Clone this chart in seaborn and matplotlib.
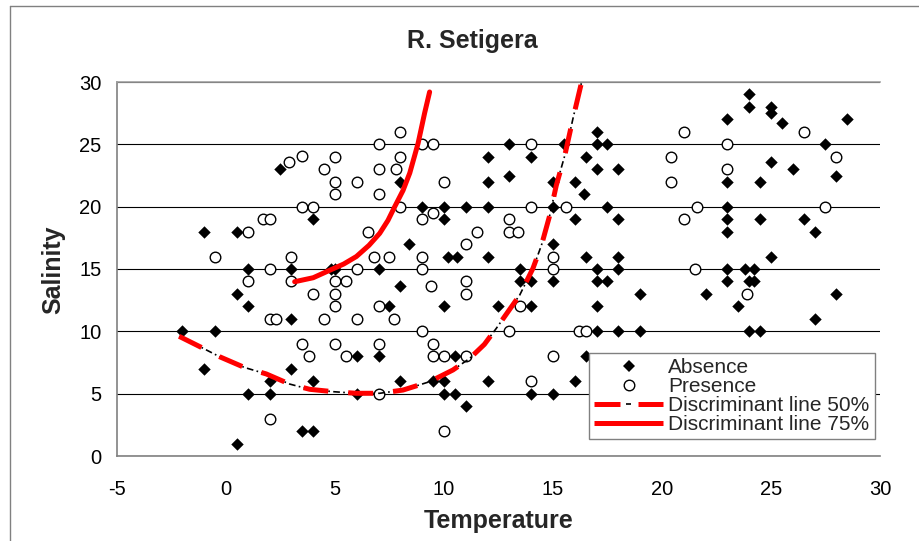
import matplotlib
matplotlib.use("Agg")
import matplotlib.pyplot as plt
import seaborn as sns
from matplotlib.lines import Line2D
from matplotlib.legend_handler import HandlerBase

# ---------------- data ----------------
absence_temp = [-2, -1, -1, -0.5, 0.5, 0.5, 0.5, 1, 1, 1, 2, 2, 2.5, 3, 3, 3, 3.5, 4, 4, 4,
                4.8, 5, 6, 6, 7, 7, 7.5, 8, 8, 8, 8.4, 9, 9.5, 10, 10, 10, 10, 10, 10.2, 10.6,
                10.5, 10.5, 11, 11, 12, 12, 12, 12, 12, 12.5, 13, 13, 13.5, 13.5, 14, 14, 14, 14,
                15, 15, 15, 15, 15, 15.5, 16, 16, 16, 16.4, 16.5, 16.5, 16.5, 17, 17, 17, 17, 17,
                17, 17, 17.5, 17.5, 17.5, 18, 18, 18, 18, 18, 19, 19, 22, 23, 23, 23, 23, 23, 23,
                23, 23.5, 24, 24, 23.8, 24.2, 24, 24.2, 24, 24.5, 24.5, 24.5, 25, 25, 25, 25, 25.5,
                26, 26.5, 27, 27, 27.5, 28, 28, 28.5]
absence_sal = [10, 18, 7, 10, 18, 13, 1, 15, 12, 5, 6, 5, 23, 15, 11, 7, 2, 2, 19, 6,
               15, 15, 8, 5, 15, 8, 12, 22, 13.6, 6, 17, 20, 6, 20, 19, 12, 6, 5, 16, 16,
               8, 5, 20, 4, 24, 22, 20, 16, 6, 12, 25, 22.5, 15, 14, 24, 14, 12, 5,
               22, 20, 17, 14, 5, 25, 22, 19, 6, 21, 24, 16, 8, 26, 25, 23, 15, 14,
               12, 10, 25, 20, 14, 23, 19, 16, 15, 10, 13, 10, 13, 27, 22, 20, 19, 18, 15,
               14, 12, 29, 28, 15, 15, 14, 14, 10, 22, 19, 10, 28, 27.5, 23.6, 16, 26.7,
               23, 19, 18, 11, 25, 22.5, 13, 27]

presence_temp = [-0.5, 1, 1, 1.7, 2, 2, 2, 2.3, 2, 3, 3, 2.9, 3.5, 3.5, 4, 3.5, 3.8, 4, 4.5, 4.5,
                 5, 5, 5, 5, 5, 5, 5, 5.5, 5.5, 6, 6, 6, 6.5, 6.8, 7, 7, 7, 7, 7, 7,
                 7.5, 7.7, 7.8, 8, 8, 8, 9, 9.5, 9, 9.5, 9, 9, 9, 9.4, 9.5, 9.5, 10, 10,
                 10, 11, 11, 11, 11, 11.5, 13, 13, 13.4, 13, 13.5, 14, 14, 14, 15, 15, 15,
                 15.6, 16.2, 16.5, 20.4, 20.4, 21, 21, 21.6, 21.5, 23, 23, 23.9, 26.5, 27.5, 28]
presence_sal = [16, 18, 14, 19, 19, 15, 11, 11, 3, 16, 14, 23.6, 24.1, 20, 20, 9, 8, 13, 23, 11,
                24, 22, 21, 14, 13, 12, 9, 14, 8, 22, 15, 11, 18, 16, 25, 23, 21, 12, 9, 5,
                16, 11, 23, 26, 24, 20, 25, 25, 19, 19.5, 16, 15, 10, 13.6, 9, 8, 8, 22,
                2, 17, 14, 13, 8, 18, 19, 18, 18, 10, 12, 25, 20, 6, 16, 15, 8,
                20, 10, 10, 24, 22, 26, 19, 20, 15, 25, 23, 13, 26, 20, 24]

d50_temp = [-2.15, -1.05, -0.29, 0.85, 1.85, 2.92, 3.84, 4.91, 5.98, 7.05, 8.12, 9.34,
            10.41, 11.18, 11.85, 12.4, 13.47, 14.08, 14.47, 14.85, 15.15, 15.54, 15.92, 16.3]
d50_sal = [9.6, 8.64, 7.96, 7.1, 6.58, 5.77, 5.35, 5.16, 5.03, 5.03, 5.29, 5.96,
           6.9, 7.83, 8.95, 10.24, 12.9, 15.05, 16.9, 19.3, 21.7, 24.1, 27.1, 29.9]

d75_temp = [3.15, 4.0, 4.76, 5.4, 5.98, 6.56, 7.05, 7.43, 7.74, 8.12, 8.43, 8.81, 9.11, 9.34]
d75_sal = [13.98, 14.3, 14.9, 15.4, 16.0, 16.9, 17.86, 18.9, 20.0, 21.3, 22.7, 25.07, 27.5, 29.2]

x_ticks = [-5, 0, 5, 10, 15, 20, 25, 30]
y_ticks = [0, 5, 10, 15, 20, 25, 30]
legend_labels = ["Absence", "Presence", "Discriminant line 50%", "Discriminant line 75%"]

# ---------------- style ----------------
sns.set_theme(style="white")
plt.rcParams['font.family'] = ['Liberation Sans', 'DejaVu Sans']

W, H = 920, 541
fig = plt.figure(figsize=(W / 100, H / 100), dpi=100)
fig.patch.set_facecolor("white")
ax = fig.add_axes([117 / W, (H - 456) / H, 763 / W, 374 / H])
ax.set_facecolor("white")

# ---------------- marks ----------------
sns.scatterplot(x=absence_temp, y=absence_sal, marker="D", s=40, color="black",
                linewidth=0, ax=ax, zorder=3, legend=False)
sns.scatterplot(x=presence_temp, y=presence_sal, marker="o", s=58, color="white",
                edgecolor="black", linewidth=1.0, ax=ax, zorder=3, legend=False)

sns.lineplot(x=d50_temp, y=d50_sal, sort=False, estimator=None, color="black",
             linewidth=1.2, linestyle=(0, (4, 2, 1, 2)), ax=ax, zorder=4, legend=False)
sns.lineplot(x=d50_temp, y=d50_sal, sort=False, estimator=None, color="red",
             linewidth=3.6, linestyle=(0, (5, 4)), ax=ax, zorder=5, legend=False)
sns.lineplot(x=d75_temp, y=d75_sal, sort=False, estimator=None, color="red",
             linewidth=3.6, ax=ax, zorder=5, legend=False)

# ---------------- axes ----------------
ax.set_xlim(x_ticks[0], x_ticks[-1])
ax.set_ylim(y_ticks[0], y_ticks[-1])
ax.set_xticks(x_ticks)
ax.set_yticks(y_ticks)
ax.set_xticklabels([str(t) for t in x_ticks])
ax.set_yticklabels([str(t) for t in y_ticks])
ax.tick_params(axis="x", direction="in", length=5, width=1, color="#808080",
               pad=17, labelsize=14.5, labelcolor="black")
ax.tick_params(axis="y", length=0, pad=11, labelsize=14.5, labelcolor="black")
ax.set_axisbelow(True)
ax.yaxis.grid(True, color="black", linewidth=0.8)
ax.xaxis.grid(False)
for side in ["left", "bottom"]:
    ax.spines[side].set_color("#808080")
    ax.spines[side].set_linewidth(1.2)
ax.spines["top"].set_color("#a0a0a0")
ax.spines["top"].set_linewidth(1.2)
ax.spines["right"].set_visible(False)

ax.set_xlabel("Temperature", fontsize=18, fontweight="bold")
ax.set_ylabel("Salinity", fontsize=18, fontweight="bold")
ax.xaxis.label.set_va("center")
ax.yaxis.label.set_va("center")
ax.xaxis.set_label_coords((499 - 117) / 763, (456 - 521) / 374)
ax.yaxis.set_label_coords((53 - 117) / 763, (456 - 270) / 374)

fig.text(472 / W, 1 - 41 / H, "R. Setigera", ha="center", va="center",
         fontsize=18, fontweight="bold")

# chart-area border (top and left visible in the reference)
fig.add_artist(Line2D([10 / W, 1.0], [1 - 6 / H, 1 - 6 / H], transform=fig.transFigure,
                      color="#808080", linewidth=1))
fig.add_artist(Line2D([10 / W, 10 / W], [0.0, 1 - 6 / H], transform=fig.transFigure,
                      color="#808080", linewidth=1))


# ---------------- legend ----------------
class Handler50(HandlerBase):
    """red dash - small black dash - red dash, as in the reference legend"""
    def create_artists(self, legend, orig_handle, xdescent, ydescent, width, height,
                       fontsize, trans):
        y = height / 2 - ydescent
        x0 = -xdescent
        parts = [((0.0, 0.37), "red", 3.6), ((0.46, 0.54), "black", 1.2),
                 ((0.63, 1.0), "red", 3.6)]
        arts = []
        for (a, b), c, lw in parts:
            ln = Line2D([x0 + a * width, x0 + b * width], [y, y], color=c,
                        linewidth=lw, solid_capstyle="butt")
            ln.set_transform(trans)
            arts.append(ln)
        return arts


h_abs = Line2D([], [], marker="D", linestyle="", color="black", markersize=6.3, markeredgewidth=0)
h_pre = Line2D([], [], marker="o", linestyle="", markerfacecolor="white",
               markeredgecolor="black", markersize=7.6, markeredgewidth=1.0)
h_50 = Line2D([], [], color="red", linewidth=3.6)
h_75 = Line2D([], [], color="red", linewidth=3.6, solid_capstyle="butt")
leg = ax.legend([h_abs, h_pre, h_50, h_75], legend_labels,
                handler_map={h_50: Handler50()},
                loc="upper left", bbox_to_anchor=(589 / W, 1 - 353 / H),
                bbox_transform=fig.transFigure, borderaxespad=0, fontsize=15,
                handlelength=3.3, handletextpad=0.25, labelspacing=0.0,
                borderpad=0.25, frameon=True, fancybox=False, framealpha=1,
                edgecolor="#808080")
leg.get_frame().set_linewidth(1.0)
leg.set_zorder(10)

fig.savefig("out.png", dpi=100)
